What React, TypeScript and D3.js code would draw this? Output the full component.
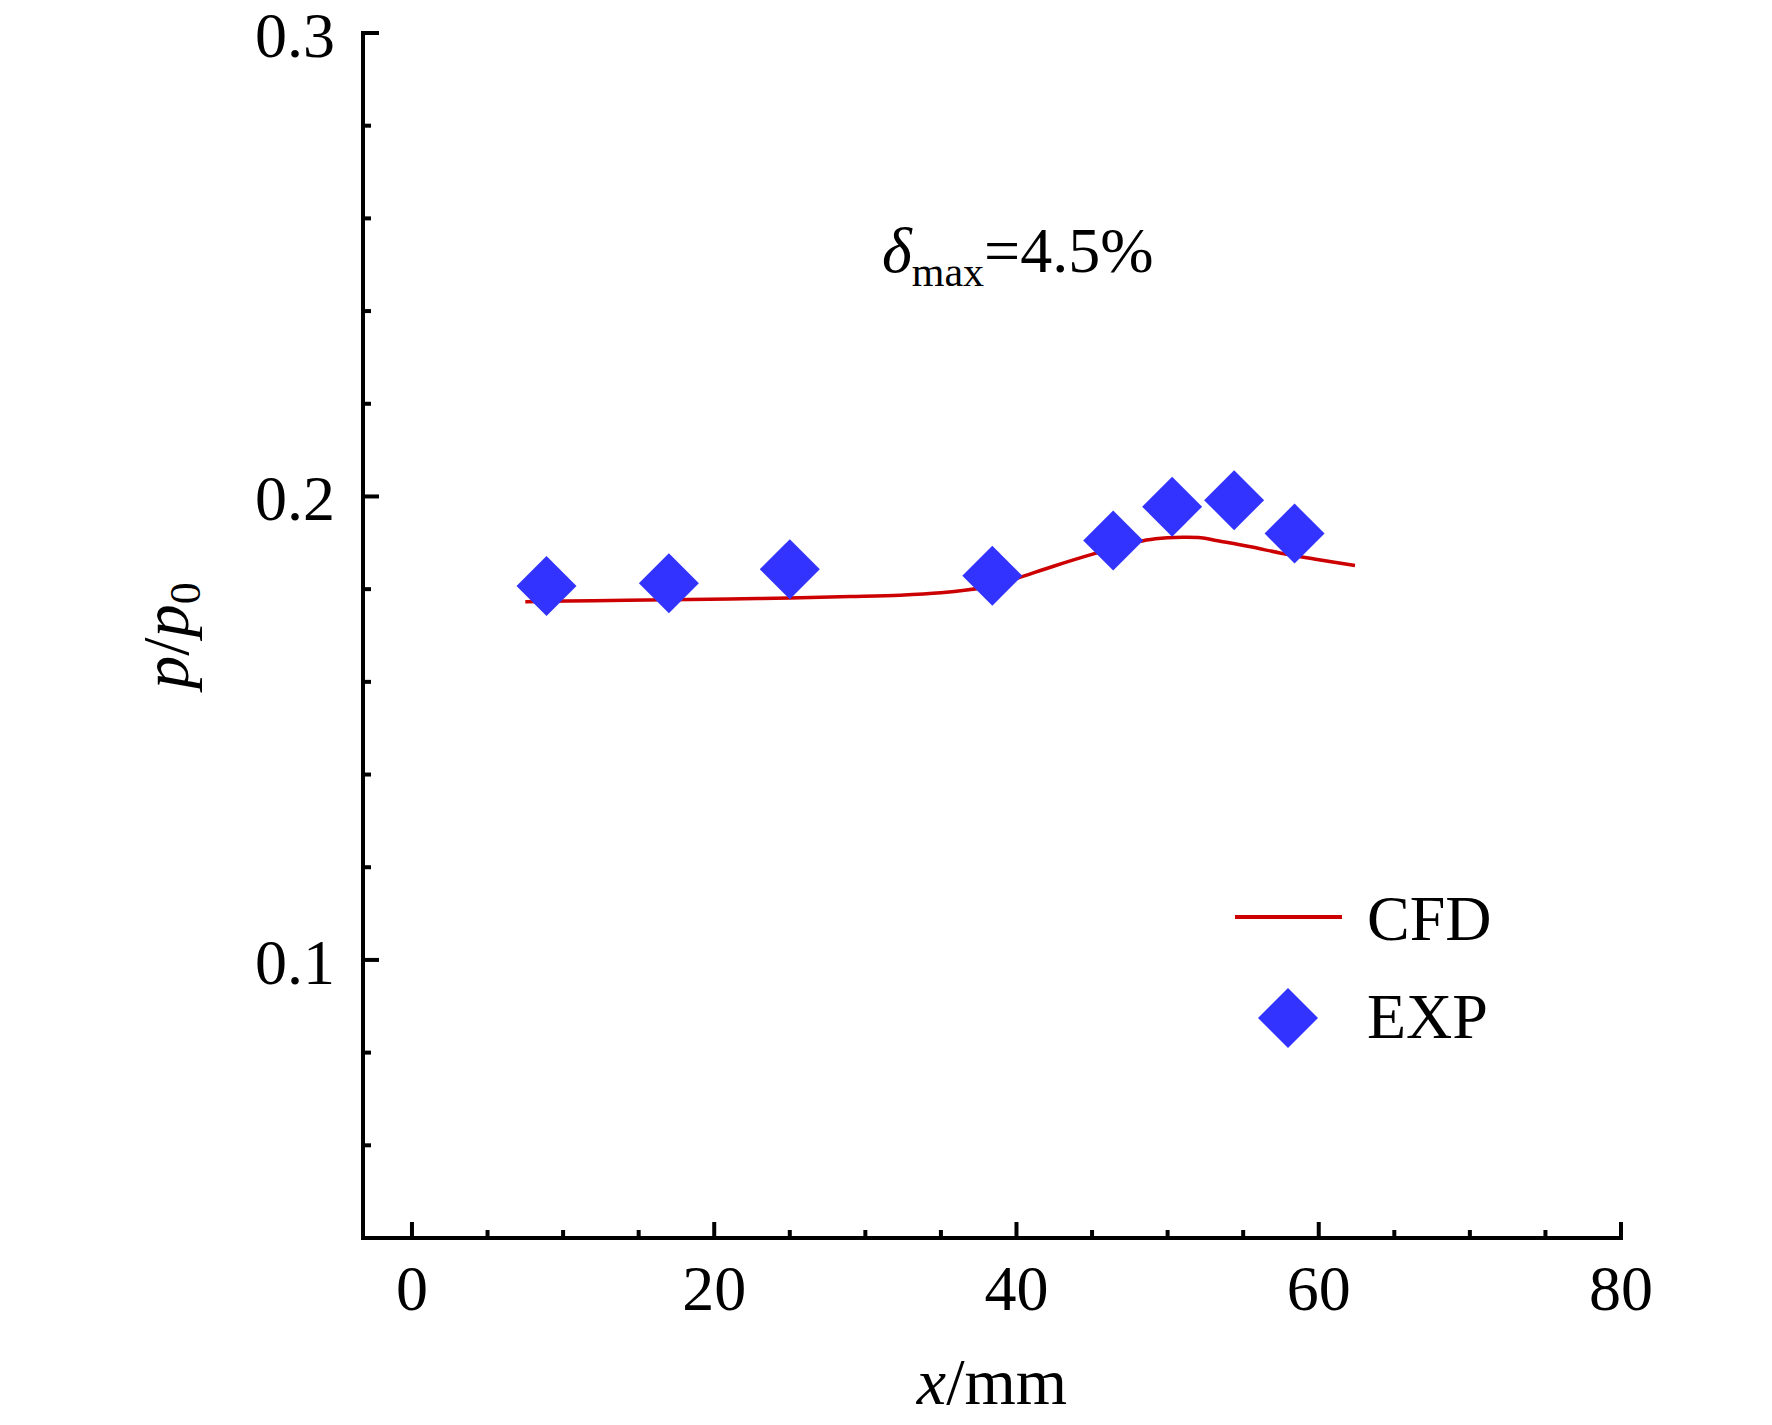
import React from "react";
import * as d3 from "d3";

const cfdX = [7.5, 12, 17, 21, 25, 29, 32.3, 35, 36.7, 38.5, 40, 42.5, 45.1, 47, 48.6, 50, 51, 52.2, 53.2, 55.4, 57.6, 59.9, 62.4];
const cfdY = [0.1773, 0.1775, 0.1777, 0.1779, 0.1781, 0.1784, 0.1787, 0.1792, 0.1798, 0.1808, 0.1823, 0.185, 0.1876, 0.1893, 0.1906, 0.1911, 0.1912, 0.1911, 0.1905, 0.1892, 0.1877, 0.1864, 0.1851];

const expX = [8.9, 17.0, 25.0, 38.4, 46.4, 50.3, 54.4, 58.4];
const expY = [0.1807, 0.1813, 0.1843, 0.1829, 0.1905, 0.1978, 0.1992, 0.192];

const xMajor = [0, 20, 40, 60, 80];
const xMinor = [5, 10, 15, 25, 30, 35, 45, 50, 55, 65, 70, 75];
const yMajor = [0.1, 0.2, 0.3];
const yMinor = [0.06, 0.08, 0.12, 0.14, 0.16, 0.18, 0.22, 0.24, 0.26, 0.28];

const W = 1772;
const H = 1425;
const FONT = "'Liberation Serif', 'Times New Roman', serif";
const RED = "#cc0000";
const BLUE = "#3333ff";

export default function App() {
  const x = d3.scaleLinear().domain([-3.24, 80]).range([363, 1621]);
  const y = d3.scaleLinear().domain([0.04, 0.3]).range([1238, 33]);
  const line = d3
    .line<number>()
    .x((_, i) => x(cfdX[i]))
    .y((d) => y(d))
    .curve(d3.curveCatmullRom.alpha(0.5));
  const diamond = (cx: number, cy: number, r: number) =>
    `M${cx},${cy - r}L${cx + r},${cy}L${cx},${cy + r}L${cx - r},${cy}Z`;

  const [x0, x1] = x.range();
  const [yb, yt] = y.range();

  return (
    <div style={{ position: "absolute", left: 0, top: 0 }}>
      <svg width={W} height={H} style={{ display: "block", background: "#fff" }} fontFamily={FONT}>
        {/* data */}
        <path d={line(cfdY) || ""} fill="none" stroke={RED} strokeWidth={3.5} />
        {expY.map((v, i) => (
          <path key={i} d={diamond(x(expX[i]), y(v), 30)} fill={BLUE} />
        ))}

        {/* axes */}
        <path d={`M${x0},${yt}V${yb}H${x1}`} fill="none" stroke="#000" strokeWidth={4} strokeLinecap="square" />
        {yMajor.map((v) => (
          <line key={"ym" + v} x1={x0} x2={x0 + 16} y1={y(v)} y2={y(v)} stroke="#000" strokeWidth={4} />
        ))}
        {yMinor.map((v) => (
          <line key={"yn" + v} x1={x0} x2={x0 + 8} y1={y(v)} y2={y(v)} stroke="#000" strokeWidth={4} />
        ))}
        {xMajor.map((v) => (
          <line key={"xm" + v} x1={x(v)} x2={x(v)} y1={yb} y2={yb - 16} stroke="#000" strokeWidth={4} />
        ))}
        {xMinor.map((v) => (
          <line key={"xn" + v} x1={x(v)} x2={x(v)} y1={yb} y2={yb - 8} stroke="#000" strokeWidth={4} />
        ))}

        {/* tick labels */}
        {yMajor.map((v) => (
          <text key={"yl" + v} x={x0 - 28} y={y(v) + 24} textAnchor="end" fontSize={64}>
            {d3.format(".1f")(v)}
          </text>
        ))}
        {xMajor.map((v) => (
          <text key={"xl" + v} x={x(v)} y={yb + 72} textAnchor="middle" fontSize={64}>
            {v}
          </text>
        ))}

        {/* axis titles */}
        <text x={(x0 + x1) / 2} y={1404} textAnchor="middle" fontSize={66}>
          <tspan fontStyle="italic">x</tspan>
          <tspan>/mm</tspan>
        </text>
        <text transform={`translate(188,${(yt + yb) / 2}) rotate(-90)`} textAnchor="middle" fontSize={66}>
          <tspan fontStyle="italic">p</tspan>
          <tspan>/</tspan>
          <tspan fontStyle="italic">p</tspan>
          <tspan fontSize={44} dy={12}>0</tspan>
        </text>

        {/* annotation */}
        <text x={882} y={272} fontSize={64}>
          <tspan fontStyle="italic">δ</tspan>
          <tspan fontSize={42} dy={14}>max</tspan>
          <tspan dy={-14}>=4.5%</tspan>
        </text>

        {/* legend */}
        <line x1={1235} x2={1342} y1={917} y2={917} stroke={RED} strokeWidth={4} />
        <text x={1367} y={940} fontSize={64}>CFD</text>
        <path d={diamond(1288, 1018, 30)} fill={BLUE} />
        <text x={1367} y={1038} fontSize={64}>EXP</text>
      </svg>
    </div>
  );
}
